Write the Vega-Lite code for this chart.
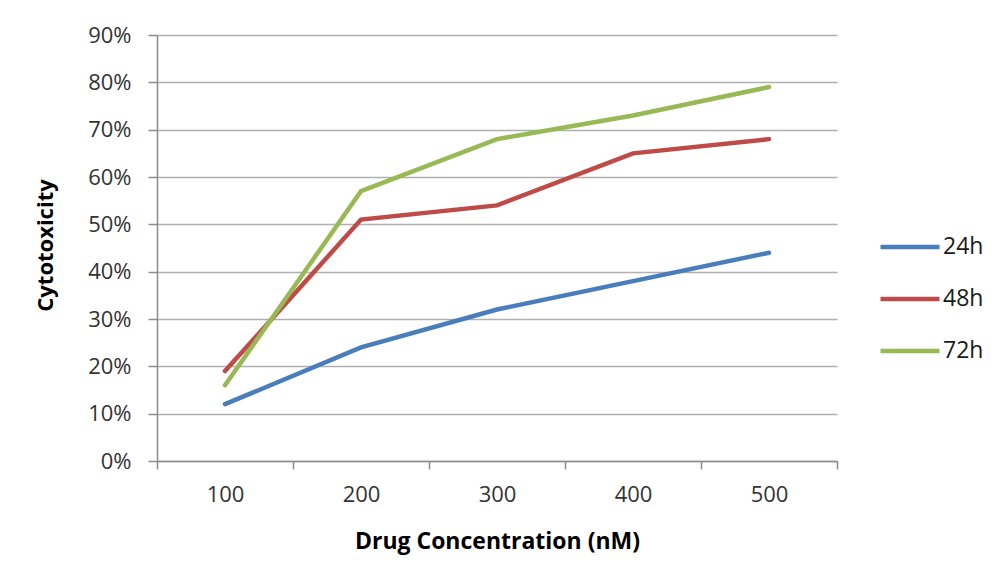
{
  "$schema": "https://vega.github.io/schema/vega-lite/v6.json",
  "width": 680,
  "height": 426,
  "autosize": {"type": "none"},
  "padding": {"left": 157, "top": 35, "right": 163, "bottom": 120},
  "background": "white",
  "config": {
    "font": "Open Sans",
    "view": {"stroke": null}
  },
  "data": {
    "values": [
      {"conc": "100", "series": "24h", "value": 0.12},
      {"conc": "200", "series": "24h", "value": 0.24},
      {"conc": "300", "series": "24h", "value": 0.32},
      {"conc": "400", "series": "24h", "value": 0.38},
      {"conc": "500", "series": "24h", "value": 0.44},
      {"conc": "100", "series": "48h", "value": 0.19},
      {"conc": "200", "series": "48h", "value": 0.51},
      {"conc": "300", "series": "48h", "value": 0.54},
      {"conc": "400", "series": "48h", "value": 0.65},
      {"conc": "500", "series": "48h", "value": 0.68},
      {"conc": "100", "series": "72h", "value": 0.16},
      {"conc": "200", "series": "72h", "value": 0.57},
      {"conc": "300", "series": "72h", "value": 0.68},
      {"conc": "400", "series": "72h", "value": 0.73},
      {"conc": "500", "series": "72h", "value": 0.79}
    ]
  },
  "mark": {"type": "line", "strokeWidth": 4.5, "strokeCap": "round", "strokeJoin": "miter"},
  "encoding": {
    "x": {
      "field": "conc",
      "type": "ordinal",
      "bandPosition": 0.5,
      "scale": {"type": "band", "paddingInner": 0, "paddingOuter": 0},
      "title": "Drug Concentration (nM)",
      "axis": {
        "tickBand": "extent",
        "labelAngle": 0,
        "grid": false,
        "domainColor": "#8c8c8c",
        "domainWidth": 1.5,
        "tickColor": "#8c8c8c",
        "tickWidth": 1.5,
        "tickSize": 8,
        "labelFontSize": 22,
        "labelColor": "#333333",
        "labelPadding": 15,
        "titleFontSize": 23,
        "titleFontWeight": "bold",
        "titleColor": "#000000",
        "titleBaseline": "middle",
        "titleY": 80
      }
    },
    "y": {
      "field": "value",
      "type": "quantitative",
      "scale": {"domain": [0, 0.9]},
      "title": "Cytotoxicity",
      "axis": {
        "values": [0, 0.1, 0.2, 0.3, 0.4, 0.5, 0.6, 0.7, 0.8, 0.9],
        "format": ".0%",
        "grid": true,
        "gridColor": "#b0b0b0",
        "gridWidth": 1.5,
        "domainColor": "#8c8c8c",
        "domainWidth": 1.5,
        "tickColor": "#8c8c8c",
        "tickWidth": 1.5,
        "tickSize": 9,
        "labelFontSize": 22,
        "labelColor": "#333333",
        "labelPadding": 17,
        "titleFontSize": 22,
        "titleFontWeight": "bold",
        "titleColor": "#000000",
        "titleAngle": -90,
        "titleBaseline": "middle",
        "titleAlign": "center",
        "titleX": -112,
        "titleY": 210
      }
    },
    "color": {
      "field": "series",
      "type": "nominal",
      "scale": {"domain": ["24h", "48h", "72h"], "range": ["#4a7ebb", "#be4b48", "#98b954"]},
      "legend": {
        "title": null,
        "orient": "none",
        "legendX": 721,
        "legendY": 180,
        "symbolType": "stroke",
        "symbolSize": 3481,
        "symbolStrokeWidth": 4.5,
        "labelFontSize": 23,
        "labelColor": "#1a1a1a",
        "labelOffset": 1,
        "rowPadding": 8,
        "padding": 0
      }
    }
  }
}
